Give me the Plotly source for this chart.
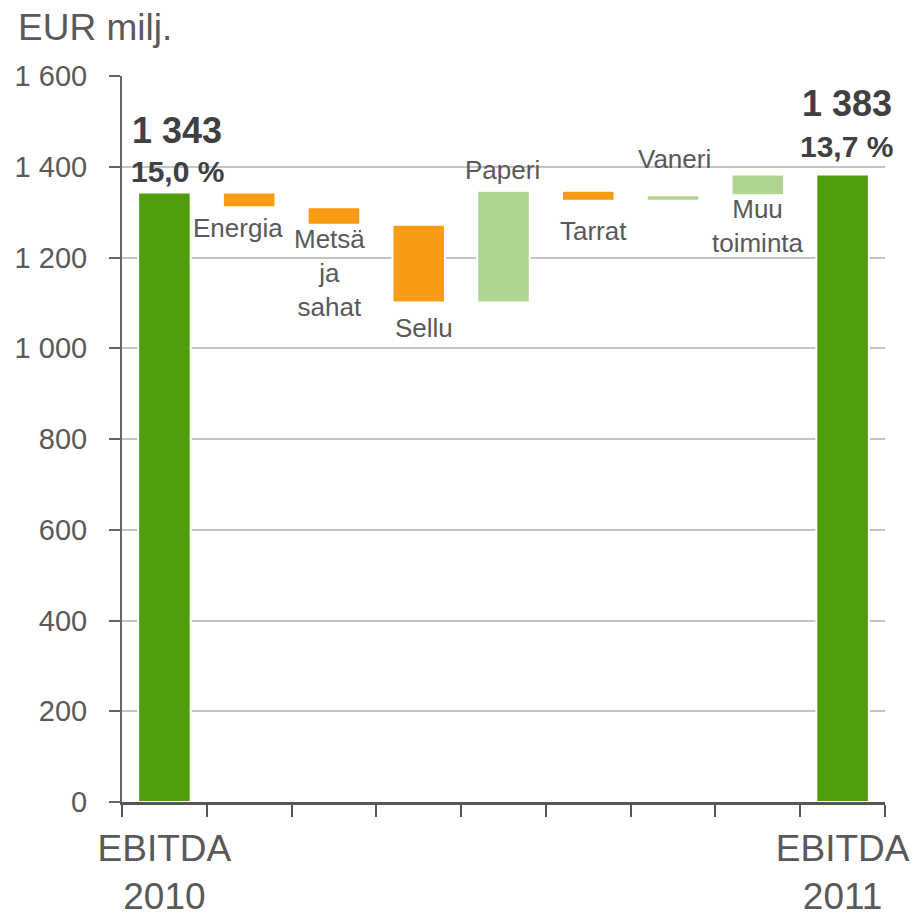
import plotly.graph_objects as go

# ---------------- data ----------------
categories = ["EBITDA 2010", "Energia", "Metsä ja sahat", "Sellu", "Paperi",
              "Tarrat", "Vaneri", "Muu toiminta", "EBITDA 2011"]
measures = ["absolute", "relative", "relative", "relative", "relative",
            "relative", "relative", "relative", "absolute"]
values = [1343, -32, -39, -171, 246, -22, 12, 46, 1383]
x_tick_labels = ["EBITDA<br>2010", "", "", "", "", "", "", "", "EBITDA<br>2011"]
bar_labels = ["", "Energia", "Metsä<br>ja<br>sahat", "Sellu", "Paperi",
              "Tarrat", "Vaneri", "Muu<br>toiminta", ""]
ebitda_labels = ["1 343", "1 383"]
margin_labels = ["15,0 %", "13,7 %"]
y_tick_values = [0, 200, 400, 600, 800, 1000, 1200, 1400, 1600]
y_tick_labels = ["0", "200", "400", "600", "800", "1 000", "1 200", "1 400", "1 600"]

# ---------------- styles ----------------
FONT = "Liberation Sans, Arial, sans-serif"
TXT = "#595959"
DARK = "#404040"
C_TOTAL = "#519E0C"
C_DEC = "#F99B14"
C_INC = "#B2D492"

label_side = [None, "below", "below", "below", "above", "below", "above", "below", None]
label_off = [0, 21, 48, 26, 21, 30, 36, 31, 0]
label_dx = [0, -11, -4, 5, -1, 5, 1, 0, 0]

fig = go.Figure()
fig.add_trace(go.Waterfall(
    x=categories, y=values, measure=measures,
    width=0.62,
    connector=dict(visible=False),
    totals=dict(marker=dict(color=C_TOTAL, line=dict(color="white", width=2))),
    decreasing=dict(marker=dict(color=C_DEC, line=dict(color="white", width=2))),
    increasing=dict(marker=dict(color=C_INC, line=dict(color="white", width=2))),
    textinfo="none", hoverinfo="skip", showlegend=False,
))

# compute bar extents from the data
bottoms, tops = [], []
level = 0
for m, v in zip(measures, values):
    if m == "absolute":
        b, t = 0, v
        level = v
    else:
        b, t = sorted([level, level + v])
        level += v
    bottoms.append(b)
    tops.append(t)

annotations = []
for i, cat in enumerate(categories):
    if label_side[i] is None:
        continue
    if label_side[i] == "below":
        y, ys = bottoms[i], -label_off[i]
    else:
        y, ys = tops[i], label_off[i]
    annotations.append(dict(
        x=cat, y=y, xref="x", yref="y", text=bar_labels[i], showarrow=False,
        xanchor="center", yanchor="middle", yshift=ys, xshift=label_dx[i],
        font=dict(family=FONT, size=26, color=TXT), align="center"))

# EBITDA totals labels
tot_idx = [0, len(categories) - 1]
tot_dx = [13, 4]
tot_off_val = [62, 71]
tot_off_pct = [21, 28]
for k, i in enumerate(tot_idx):
    annotations.append(dict(
        x=categories[i], y=tops[i], text=ebitda_labels[k], showarrow=False,
        xanchor="center", yanchor="middle", yshift=tot_off_val[k], xshift=tot_dx[k],
        font=dict(family=FONT, size=36, color=DARK, weight="bold")))
    annotations.append(dict(
        x=categories[i], y=tops[i], text=margin_labels[k], showarrow=False,
        xanchor="center", yanchor="middle", yshift=tot_off_pct[k], xshift=tot_dx[k],
        font=dict(family=FONT, size=30, color=DARK, weight="bold")))

fig.update_layout(
    width=918, height=920,
    margin=dict(l=122, r=33, t=76, b=118),
    plot_bgcolor="white", paper_bgcolor="white",
    font=dict(family=FONT, color=TXT),
    title=dict(text="EUR milj.", x=18 / 918, xanchor="left", xref="container",
               y=1 - 27 / 920, yanchor="middle", yref="container",
               font=dict(family=FONT, size=37, color=TXT)),
    annotations=annotations,
    xaxis=dict(type="category", tickmode="array", tickvals=categories, ticktext=x_tick_labels,
               range=[-0.5, len(categories) - 0.5],
               tickson="boundaries", ticks="outside", ticklen=12, tickwidth=2, tickcolor="#555555",
               showline=True, linecolor="#555555", linewidth=2.5, showgrid=False,
               tickfont=dict(family=FONT, size=37, color=TXT), ticklabelstandoff=12,
               tickangle=0, automargin=False, fixedrange=True),
    yaxis=dict(range=[0, 1600], tickmode="array", tickvals=y_tick_values, ticktext=y_tick_labels,
               ticks="outside", ticklen=11, tickwidth=2, tickcolor="#666666",
               showline=True, linecolor="#666666", linewidth=2,
               showgrid=True, gridcolor="#C4C4C4", gridwidth=1.5, zeroline=False,
               tickfont=dict(family=FONT, size=29, color=TXT), ticklabelstandoff=16,
               automargin=False, fixedrange=True),
)

fig.write_html("out.html", config={"displayModeBar": False},
               post_script="document.body.style.margin='0';document.body.style.overflow='hidden';")
